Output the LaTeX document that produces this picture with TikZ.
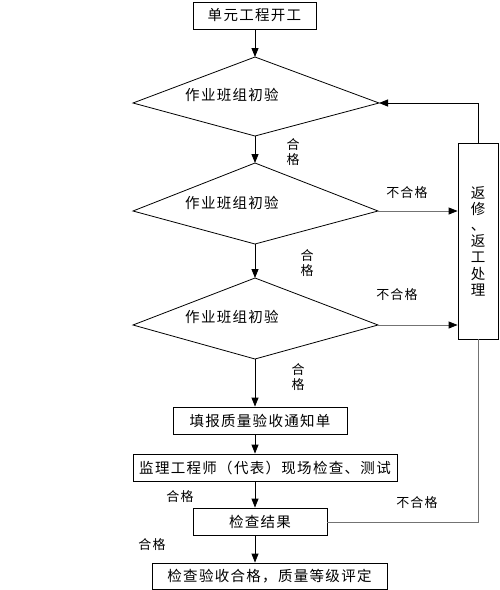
\documentclass[tikz,border=0pt]{standalone}
\usepackage{fontspec}
\setmainfont{Noto Sans CJK SC}
\newfontfamily\boxfont[LetterSpace=9]{Noto Sans CJK SC}
\newfontfamily\lblfont[LetterSpace=8]{Noto Sans CJK SC}
\usetikzlibrary{arrows.meta}
\tikzset{
  box/.style={draw=black, line width=0.8pt, rectangle, inner sep=0pt, font=\boxfont\fontsize{14.5}{16}\selectfont},
  lbl/.style={inner sep=0pt, font=\lblfont\fontsize{13}{15}\selectfont, align=center},
  dtxt/.style={inner sep=0pt, font=\boxfont\fontsize{14.5}{16}\selectfont},
  flow/.style={draw=black, line width=0.8pt, -{Triangle[width=7pt,length=9pt]}},
  gflow/.style={draw=black!55, line width=0.8pt, -{Triangle[width=7pt,length=9pt,color=black]}},
  gline/.style={draw=black!55, line width=0.8pt},
  kite/.style={draw=black, line width=0.8pt}
}
\begin{document}
\begin{tikzpicture}[x=1pt,y=-1pt]
\useasboundingbox (0,0) rectangle (500,590);
% boxes
\node[box, minimum width=123pt, minimum height=27pt] (b1) at (254.5,15.5) {单元工程开工};
\node[box, minimum width=174pt, minimum height=27pt] (b2) at (260,420.5) {填报质量验收通知单};
\node[box, minimum width=264pt, minimum height=27pt] (b3) at (265,467.5) {监理工程师（代表）现场检查、测试};
\node[box, minimum width=134pt, minimum height=27pt] (b4) at (260,521.5) {检查结果};
\node[box, minimum width=235pt, minimum height=26pt] (b5) at (269.5,576) {检查验收合格，质量等级评定};
\node[box, minimum width=40pt, minimum height=196pt, align=center, font=\boxfont\fontsize{14.5}{16.2}\selectfont] (rb) at (478,241) {返\\修\\、\\返\\工\\处\\理};
% kites
\coordinate (d1t) at (255,57); \coordinate (d1l) at (133,103); \coordinate (d1r) at (379,103); \coordinate (d1b) at (255,136);
\coordinate (d2t) at (255,163); \coordinate (d2l) at (133,211); \coordinate (d2r) at (378,211); \coordinate (d2b) at (255,244);
\coordinate (d3t) at (255,278); \coordinate (d3l) at (133,325); \coordinate (d3r) at (378,325); \coordinate (d3b) at (255,359);
\draw[kite] (d1t) -- (d1r) -- (d1b) -- (d1l) -- cycle;
\draw[kite] (d2t) -- (d2r) -- (d2b) -- (d2l) -- cycle;
\draw[kite] (d3t) -- (d3r) -- (d3b) -- (d3l) -- cycle;
\node[dtxt] (t1) at (232,95) {作业班组初验};
\node[dtxt] (t2) at (232,203) {作业班组初验};
\node[dtxt] (t3) at (232,317) {作业班组初验};
% labels
\node[lbl] (l1) at (293,152) {合\\格};
\node[lbl] (l2) at (307,263) {合\\格};
\node[lbl] (l3) at (298,377) {合\\格};
\node[lbl] (n1) at (407,193) {不合格};
\node[lbl] (n2) at (397,295) {不合格};
\node[lbl] (n3) at (417,503) {不合格};
\node[lbl] (p1) at (180,497) {合格};
\node[lbl] (p2) at (152,545) {合格};
% turning points
\coordinate (r1) at (478,103);
\coordinate (r2) at (478,522);
% main flow
\draw[flow] (b1.south -| d1t) -- (d1t);
\draw[flow] (d1b) -- (d2t);
\draw[flow] (d2b) -- (d3t);
\draw[flow] (d3b) -- (b2.north -| d3b);
\draw[flow] (b2.south -| d3b) -- (b3.north -| d3b);
\draw[flow] (b3.south -| d3b) -- (b4.north -| d3b);
\draw[flow] (b4.south -| d3b) -- (b5.north -| d3b);
% side flows
\draw[gflow] (d2r) -- (d2r -| rb.west);
\draw[gflow] (d3r) -- (d3r -| rb.west);
\draw[flow] (rb.north) -- (r1) -- (d1r);
\draw[gline] (rb.south) -- (r2) -- (r2 -| b4.east);
\end{tikzpicture}
\end{document}
